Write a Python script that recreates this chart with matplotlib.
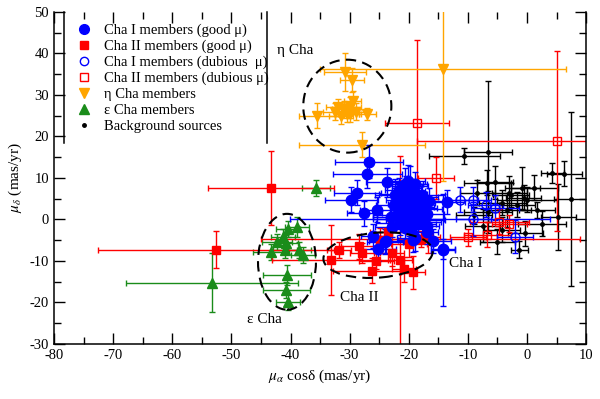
import numpy as np
import matplotlib
matplotlib.use("Agg")
import matplotlib.pyplot as plt
from matplotlib.patches import Ellipse
from matplotlib.lines import Line2D

plt.rcParams.update({
    "font.family": "Liberation Serif", "font.size": 10.5,
    "mathtext.fontset": "stix", "axes.unicode_minus": False,
})

# Cha I members, good proper motion: x, y, xerr, yerr
cha1_x = [-26.7, -27.0, -23.7, -28.7, -29.7, -20.6, -13.5, -14.2, -25.2, -23.8, -15.9, -26.0, -19.0, -17.0, -27.5,
          -25.3, -24.0, -19.3, -14.2,
          -22.5, -21.8, -21.0, -20.4, -19.8, -19.2, -18.6, -18.0, -17.4, -22.0, -21.2, -20.5, -19.9, -19.3, -18.7,
          -18.1, -17.5, -21.5, -20.8, -20.1, -19.5, -18.9, -18.3, -22.3, -21.6, -20.2, -19.0, -17.8, -20.6, -19.6,
          -21.0, -18.4, -20.0, -19.4, -17.0, -23.0, -16.6, -22.8, -16.9]
cha1_y = [13.9, 11.0, 9.0, 6.4, 4.7, 8.5, 4.2, -7.3, -7.1, -5.2, -5.2, -4.0, -4.5, -3.0, 1.5,
          2.3, -5.4, -4.9, -7.1,
          3.5, 4.8, 6.2, 7.5, 8.0, 6.8, 5.5, 4.0, 2.5, 1.0, 2.2, 3.8, 5.0, 3.0, 1.5,
          0.2, -0.5, -0.8, 0.5, 1.8, -1.5, -0.2, 2.8, 5.8, 7.0, 9.2, 8.5, 6.0, -2.0, -2.4,
          4.2, -1.2, 0.0, 1.0, 1.2, 0.5, 4.5, -1.8, -1.5]
cha1_xe = [5.8, 5.8, 3.5, 4.0, 4.5, 3.0, 3.0, 2.0, 3.0, 3.0, 3.0, 2.0, 3.0, 2.0, 3.0,
           3.0, 3.0, 2.5, 2.0,
           3.0, 2.0, 4.0, 2.5, 3.0, 2.0, 3.5, 2.5, 3.0, 4.0, 2.0, 3.0, 2.5, 3.5, 2.0,
           22.0, 3.0, 4.0, 2.5, 3.0, 2.0, 5.0, 3.0, 3.5, 2.5, 3.0, 2.0, 4.0, 3.0, 2.5,
           2.0, 3.0, 6.0, 2.5, 3.0, 3.0, 2.5, 3.0, 2.0]
cha1_ye = [4.0, 3.5, 3.5, 3.0, 3.0, 4.0, 3.0, 13.5, 3.0, 3.0, 3.0, 3.0, 3.0, 3.0, 3.0,
           3.0, 3.0, 3.0, 2.5,
           3.0, 4.0, 2.5, 3.0, 5.0, 3.0, 2.5, 4.0, 3.0, 2.5, 3.5, 3.0, 4.5, 2.5, 3.0,
           2.0, 3.5, 3.0, 2.5, 4.0, 3.0, 2.5, 3.0, 4.0, 3.0, 4.0, 3.0, 2.5, 3.5, 3.0,
           3.0, 2.5, 4.0, 3.0, 3.0, 3.0, 3.0, 2.5, 3.0]

# Cha II members, good proper motion
cha2_x = [-52.6, -43.3, -33.1, -31.8, -27.9, -26.2, -22.8, -21.5, -20.8, -19.3, -24.8, -16.7, -18.0, -23.5, -20.0,
          -25.5, -28.5]
cha2_y = [-7.3, 7.6, -9.8, -7.4, -8.1, -12.4, -8.1, -9.8, -12.0, -12.7, -5.0, -4.2, -4.7, -3.0, -6.0, -10.0, -6.5]
cha2_xe = [20.0, 10.6, 10.0, 2.0, 2.0, 6.7, 2.0, 2.0, 2.0, 2.0, 2.0, 2.0, 27.0, 3.0, 3.0, 3.0, 3.0]
cha2_ye = [4.5, 9.0, 8.5, 2.0, 2.5, 3.0, 3.0, 25.0, 3.0, 4.0, 3.0, 4.0, 2.0, 3.0, 3.0, 2.0, 3.0]

# Cha I members, dubious proper motion
cha1d_x = [-11.3, -9.1, -9.1, -5.4, -2.0, -7.0]
cha1d_y = [4.7, 4.7, 0.1, 2.8, -4.2, 3.5]
cha1d_xe = [3.0, 3.0, 3.0, 4.0, 3.0, 3.0]
cha1d_ye = [3.0, 3.0, 4.0, 3.0, 4.0, 3.0]

# Cha II members, dubious proper motion
cha2d_x = [-18.6, 5.1, -15.4, -4.7, -6.7, -10.0, -3.0]
cha2d_y = [23.2, 18.9, 10.0, -0.6, -3.7, -4.3, -1.0]
cha2d_xe = [5.4, 23.7, 3.0, 5.0, 4.0, 3.0, 3.0]
cha2d_ye = [20.0, 21.7, 5.0, 3.0, 3.0, 2.0, 2.0]

# eta Cha members
eta_x = [-30.8, -29.6, -32.0, -31.0, -30.5, -30.0, -29.5, -31.5, -30.0, -29.0, -32.5, -35.5, -27.0, -27.9, -14.2]
eta_y = [35.5, 33.6, 27.0, 26.5, 25.5, 27.0, 28.5, 25.0, 25.5, 26.0, 26.0, 25.0, 25.4, 18.0, 36.3]
eta_xe = [3.5, 2.0, 2.0, 2.0, 2.0, 2.0, 1.5, 2.0, 2.0, 2.0, 2.0, 3.0, 1.5, 10.6, 20.8]
eta_ye = [4.5, 3.0, 2.0, 2.0, 2.0, 2.5, 2.5, 2.0, 2.0, 2.0, 2.0, 3.0, 1.5, 3.0, 27.0]

# epsilon Cha members
eps_x = [-35.7, -40.4, -38.9, -41.3, -42.3, -43.3, -40.7, -38.5, -37.9, -40.9, -40.6, -40.7, -40.4, -53.3]
eps_y = [7.6, -2.3, -1.8, -4.2, -5.4, -7.8, -5.7, -7.4, -8.6, -7.4, -13.4, -17.0, -19.9, -15.3]
eps_xe = [2.4, 2.0, 2.0, 2.0, 2.5, 3.0, 2.0, 2.0, 2.0, 2.0, 4.0, 4.0, 2.0, 14.5]
eps_ye = [2.0, 2.0, 2.5, 2.0, 2.0, 2.0, 2.0, 2.0, 2.0, 2.0, 2.5, 2.0, 2.0, 7.1]

# background sources
bg_x = [-6.6, -10.6, -6.7, -5.4, -3.0, -0.8, 1.2, 0.0, -2.7, 4.3, 6.3, 7.5, -4.2, -0.6, 1.7, -8.4, -3.4, -1.7,
        -6.6, -0.3, -4.2, 5.3, -1.3, -5.0, -9.0, 2.5, -7.5]
bg_y = [16.3, 15.3, 8.8, 9.0, 6.4, 7.6, 7.6, 4.7, 5.9, 11.2, 11.0, 5.0, 4.0, 5.2, 2.3, 6.4, 2.3, 3.5,
        1.8, -3.3, -2.5, 0.6, -7.3, -5.4, 1.0, -1.0, -1.5]
bg_xe = [4.0, 6.0, 4.0, 3.0, 3.0, 3.0, 4.0, 5.0, 3.0, 2.0, 3.0, 3.0, 4.0, 3.0, 3.0, 3.0, 4.0, 3.0,
         4.0, 3.0, 3.0, 3.0, 1.5, 3.0, 3.0, 4.0, 3.0]
bg_ye = [17.0, 2.0, 3.0, 4.0, 4.0, 5.0, 3.0, 3.0, 3.0, 2.5, 3.0, 21.0, 3.0, 3.0, 2.0, 3.0, 4.0, 3.0,
         5.0, 3.0, 3.0, 8.0, 2.0, 3.0, 2.0, 3.0, 4.0]

BLUE, RED, ORANGE, GREEN = "#0000ff", "#ff0000", "#ffa500", "#1a8c1a"

fig = plt.figure(figsize=(6.0, 3.99), dpi=100)
ax = fig.add_axes([0.09, 0.138, 0.887, 0.832])

eb = dict(ls="none", elinewidth=1.0, capsize=2.5, capthick=1.0)
ax.errorbar(bg_x, bg_y, xerr=bg_xe, yerr=bg_ye, fmt="o", ms=2.5, color="black", **eb)
ax.errorbar(cha2d_x, cha2d_y, xerr=cha2d_xe, yerr=cha2d_ye, fmt="s", ms=6, mfc="none", mew=1.0, color=RED, **eb)
ax.errorbar(cha1d_x, cha1d_y, xerr=cha1d_xe, yerr=cha1d_ye, fmt="o", ms=6.5, mfc="none", mew=1.0, color=BLUE, **eb)
ax.errorbar(eta_x, eta_y, xerr=eta_xe, yerr=eta_ye, fmt="v", ms=6.5, color=ORANGE, **eb)
ax.errorbar(eps_x, eps_y, xerr=eps_xe, yerr=eps_ye, fmt="^", ms=6.5, color=GREEN, **eb)
ax.errorbar(cha2_x, cha2_y, xerr=cha2_xe, yerr=cha2_ye, fmt="s", ms=6, color=RED, **eb)
ax.errorbar(cha1_x, cha1_y, xerr=cha1_xe, yerr=cha1_ye, fmt="o", ms=7.5, color=BLUE, **eb)

# dashed group outlines
dash = dict(fill=False, ls=(0, (5, 3)), lw=1.5, color="black", zorder=5)
ax.add_patch(Ellipse((-30.4, 27.3), 14.9, 22.4, **dash))
ax.add_patch(Ellipse((-40.6, -10.2), 9.8, 23.1, **dash))
ax.add_patch(Ellipse((-25.2, -8.6), 18.6, 10.8, angle=8, **dash))

ax.text(-42.3, 40.8, "η Cha", fontsize=11, va="center")
ax.text(-13.2, -10.7, "Cha I", fontsize=11, va="center")
ax.text(-31.6, -18.9, "Cha II", fontsize=11, va="center")
ax.text(-47.3, -24.0, "ε Cha", fontsize=11, va="center")

ax.set_xlim(-80, 10)
ax.set_ylim(-30, 50)
ax.set_xticks(np.arange(-80, 11, 10))
ax.set_xticks(np.arange(-75, 10, 5), minor=True)
ax.set_yticks(np.arange(-30, 51, 10))
ax.set_yticks(np.arange(-25, 50, 5), minor=True)
ax.tick_params(which="both", direction="in", top=True, right=True, width=1.0)
ax.tick_params(which="major", length=8)
ax.tick_params(which="minor", length=5)
ax.spines["top"].set_visible(False)
for s in ["left", "right", "bottom"]:
    ax.spines[s].set_linewidth(1.1)
ax.set_xlabel(r"$\mu_\alpha$ cosδ (mas/yr)", fontsize=11)
ax.set_ylabel(r"$\mu_\delta$ (mas/yr)", fontsize=11)

handles = [
    Line2D([], [], ls="none", marker="o", ms=7, color=BLUE),
    Line2D([], [], ls="none", marker="s", ms=6, color=RED),
    Line2D([], [], ls="none", marker="o", ms=6, mfc="none", color=BLUE),
    Line2D([], [], ls="none", marker="s", ms=6, mfc="none", color=RED),
    Line2D([], [], ls="none", marker="v", ms=7, color=ORANGE),
    Line2D([], [], ls="none", marker="^", ms=7, color=GREEN),
    Line2D([], [], ls="none", marker="o", ms=2.5, color="black"),
]
labels = ["Cha I members (good μ)", "Cha II members (good μ)", "Cha I members (dubious  μ)",
          "Cha II members (dubious μ)", "η Cha members", "ε Cha members", "Background sources"]
ax.legend(handles, labels, loc="upper left", bbox_to_anchor=(0.02, 1.0), frameon=False,
          handlelength=1.0, handletextpad=0.9, labelspacing=0.18, borderpad=0.3, fontsize=10.5)
ax.plot([0.019, 0.019], [1.0, 0.605], transform=ax.transAxes, color="black", lw=1.1, clip_on=False)
ax.plot([0.40, 0.40], [1.0, 0.605], transform=ax.transAxes, color="black", lw=1.1, clip_on=False)

fig.savefig("out.png", dpi=100)
